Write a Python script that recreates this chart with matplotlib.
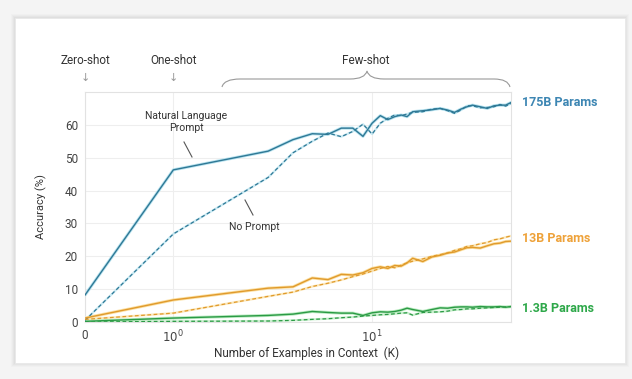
import matplotlib
matplotlib.use("Agg")
import matplotlib.pyplot as plt
from matplotlib.patches import Rectangle, PathPatch
from matplotlib.path import Path
from matplotlib.lines import Line2D

plt.rcParams["font.family"] = ["Roboto", "DejaVu Sans"]

# number of examples in context
k_values = [0, 1, 3, 4, 5, 6, 7, 8, 9, 10, 11, 12, 13, 14, 15, 16, 18, 20,
            22, 24, 26, 28, 30, 32, 35, 38, 41, 44, 47, 50]

# accuracy (%) - natural language prompt (solid) / no prompt (dashed)
acc_175b_prompt = [8.2, 46.3, 52.0, 55.5, 57.3, 57.1, 59.0, 59.0, 56.5, 60.5,
                   62.8, 61.6, 62.5, 63.0, 62.5, 64.0, 64.3, 64.6, 65.0, 64.5,
                   63.8, 64.8, 65.5, 66.0, 65.5, 65.0, 65.8, 66.0, 66.0, 66.8]
acc_175b_noprompt = [0.5, 26.8, 44.0, 51.5, 55.0, 57.5, 56.4, 58.0, 60.2, 57.2,
                     60.5, 62.0, 63.0, 62.8, 63.3, 63.8, 64.0, 64.8, 65.0, 64.3,
                     63.5, 64.5, 65.8, 65.8, 65.2, 65.3, 65.5, 66.2, 65.7, 66.5]
acc_13b_prompt = [1.2, 6.7, 10.3, 10.7, 13.4, 12.9, 14.5, 14.3, 15.0, 16.3,
                  16.8, 16.3, 17.2, 17.0, 18.0, 19.4, 18.4, 19.8, 20.3, 21.0,
                  21.3, 22.0, 22.6, 22.7, 22.5, 23.2, 23.8, 24.0, 24.5, 24.6]
acc_13b_noprompt = [0.8, 2.7, 7.8, 9.1, 10.8, 11.8, 12.8, 13.8, 14.6, 15.5,
                    16.3, 16.9, 16.5, 17.3, 18.0, 18.5, 19.2, 20.0, 20.5, 21.0,
                    21.8, 22.3, 23.0, 23.2, 23.8, 24.2, 25.0, 25.3, 25.8, 26.2]
acc_1b_prompt = [0.2, 1.2, 2.0, 2.4, 3.2, 2.9, 2.7, 2.7, 2.0, 2.8,
                 3.1, 3.0, 3.2, 3.6, 4.2, 3.8, 3.2, 3.8, 4.3, 4.2,
                 4.5, 4.6, 4.6, 4.5, 4.7, 4.6, 4.6, 4.7, 4.5, 4.7]
acc_1b_noprompt = [0.0, 0.2, 0.3, 0.5, 0.8, 1.0, 1.3, 1.5, 1.8, 2.0,
                   2.2, 2.3, 2.5, 2.7, 2.8, 2.1, 2.9, 3.0, 3.1, 3.3,
                   3.7, 3.8, 4.0, 4.0, 4.2, 4.3, 4.4, 4.5, 4.6, 4.7]

model_labels = ["175B Params", "13B Params", "1.3B Params"]
y_ticks = [0, 10, 20, 30, 40, 50, 60]

W, H = 632, 379
fig = plt.figure(figsize=(W / 100, H / 100), dpi=100)
fig.patch.set_facecolor("#f4f4f4")


def fx(px):
    return px / W


def fy(py):
    return 1 - py / H


# card with a soft shadow
for i, a in enumerate([0.03, 0.04, 0.05, 0.06]):
    d = 4 - i
    fig.patches.append(Rectangle((fx(15 - d), fy(363 + d)), fx(610 + 2 * d), (345 + 2 * d) / H,
                                 transform=fig.transFigure, facecolor="#888888",
                                 alpha=a, edgecolor="none", zorder=0))
fig.patches.append(Rectangle((fx(15), fy(363)), fx(610), 345 / H,
                             transform=fig.transFigure, facecolor="white",
                             edgecolor="#e8e8e8", lw=0.6, zorder=1))

ax = fig.add_axes([fx(85), fy(322), fx(511 - 85), (322 - 92) / H])
ax.set_facecolor("white")
ax.set_zorder(2)

ax.set_xscale("symlog", linthresh=1, linscale=0.4)
ax.set_xlim(0, 50)
ax.set_ylim(0, 70)

series = [
    (acc_175b_prompt, acc_175b_noprompt, "#2f7895", "#a6dcec"),
    (acc_13b_prompt, acc_13b_noprompt, "#e09a2c", "#fbd98c"),
    (acc_1b_prompt, acc_1b_noprompt, "#2b9a45", "#a8e6b0"),
]
for solid, dashed, dark, light in series:
    ax.plot(k_values, solid, color=light, lw=2.2, alpha=0.8, zorder=2)
    ax.plot(k_values, dashed, color=light, lw=1.6, alpha=0.6, zorder=2)
    ax.plot(k_values, solid, color=dark, lw=1.0, zorder=3)
    ax.plot(k_values, dashed, color=dark, lw=0.9, ls=(0, (3, 2)), zorder=3)

ax.set_xticks([0, 1, 10])
ax.set_xticklabels(["0", r"$10^0$", r"$10^1$"])
ax.xaxis.set_minor_locator(matplotlib.ticker.NullLocator())
ax.set_yticks(y_ticks)
ax.tick_params(length=0, labelsize=8.5, colors="#444444", pad=5)
ax.grid(True, color="#eeeeee", lw=0.8)
for s in ax.spines.values():
    s.set_color("#e2e2e2")
    s.set_linewidth(0.8)

ax.set_xlabel("Number of Examples in Context  (K)", fontsize=8.5, color="#333333")
ax.xaxis.set_label_coords(0.52, -0.105)
ax.set_ylabel("Accuracy (%)", fontsize=8, color="#333333", labelpad=13)

# right-hand model labels
label_colors = ["#3d86b3", "#eea23a", "#2ea84a"]
label_y = [103, 239, 308]
for txt, c, py in zip(model_labels, label_colors, label_y):
    fig.text(fx(522), fy(py), txt, color=c, fontsize=9, fontweight="bold", va="center", ha="left")

# annotations
fig.text(fx(186), fy(122), "Natural Language\nPrompt", ha="center", va="center",
         fontsize=7.5, color="#333333", linespacing=1.3, zorder=5)
fig.add_artist(Line2D([fx(184), fx(192)], [fy(142), fy(157)], color="#555555", lw=0.8, zorder=5))
fig.add_artist(Line2D([fx(245), fx(253)], [fy(200), fy(215)], color="#555555", lw=0.8, zorder=5))
fig.text(fx(254), fy(227), "No Prompt", fontsize=7.5, color="#333333", ha="center",
         va="center", zorder=5)

# shot labels
fig.text(fx(85), fy(61), "Zero-shot", fontsize=8.5, color="#333333", ha="center", va="center", zorder=5)
fig.text(fx(174), fy(61), "One-shot", fontsize=8.5, color="#333333", ha="center", va="center", zorder=5)
fig.text(fx(366), fy(61), "Few-shot", fontsize=8.5, color="#333333", ha="center", va="center", zorder=5)
for px in [85, 173]:
    fig.text(fx(px), fy(78), "\u2193", fontsize=8, color="#999999", ha="center", va="center",
             family="DejaVu Sans", zorder=5)

# curly brace over few-shot region
pts = [(222, 87), (224, 79), (240, 79), (350, 79), (365, 79), (367, 71),
       (369, 79), (384, 79), (494, 79), (508, 79), (510, 87)]
codes = [Path.MOVETO, Path.CURVE3, Path.CURVE3, Path.LINETO, Path.CURVE3, Path.CURVE3,
         Path.CURVE3, Path.CURVE3, Path.LINETO, Path.CURVE3, Path.CURVE3]
brace = Path([(fx(x), fy(y)) for x, y in pts], codes)
fig.add_artist(PathPatch(brace, transform=fig.transFigure, facecolor="none",
                         edgecolor="#999999", lw=0.8, zorder=5))

fig.savefig("out.png", dpi=100, facecolor=fig.get_facecolor())
plt.close(fig)
